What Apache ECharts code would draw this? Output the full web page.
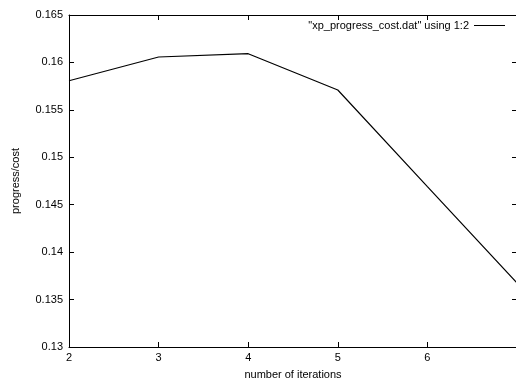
<!DOCTYPE html>
<html>
<head>
<meta charset="utf-8">
<script src="https://cdn.jsdelivr.net/npm/echarts@6/dist/echarts.min.js"></script>
<style>
  html, body { margin: 0; padding: 0; background: #fff; }
  #chart { width: 516px; height: 379px; }
</style>
</head>
<body>
<div id="chart"></div>
<script>
// iterations and progress/cost values
const iterations = [2, 3, 4, 5, 6, 7];
const progressCost = [0.15807, 0.16057, 0.16092, 0.15709, 0.1469, 0.13675];
const seriesName = '"xp_progress_cost.dat" using 1:2';
const xLabel = 'number of iterations';
const yLabel = 'progress/cost';

const font = 'Liberation Sans, Arial, Helvetica, sans-serif';
const black = '#000';
const tickIn = { show: true, inside: true, length: 5, lineStyle: { color: black, width: 1 } };
const lineBlack = { show: true, onZero: false, lineStyle: { color: black, width: 1 } };

const chart = echarts.init(document.getElementById('chart'), null, { renderer: 'canvas' });
chart.setOption({
  animation: false,
  backgroundColor: '#fff',
  textStyle: { fontFamily: font },
  grid: { left: 69, right: -1, top: 15, bottom: 32, containLabel: false, outerBoundsMode: 'none' },
  legend: {
    show: true,
    data: [seriesName],
    orient: 'horizontal',
    right: 11,
    top: 20,
    align: 'right',
    icon: 'rect',
    itemWidth: 31,
    itemHeight: 1,
    itemGap: 5,
    padding: 0,
    itemStyle: { color: black, borderWidth: 0 },
    textStyle: { fontSize: 11, color: black, fontFamily: font }
  },
  xAxis: [
    {
      type: 'value', min: 2, max: 7, interval: 1,
      name: xLabel, nameLocation: 'middle', nameGap: 22,
      nameTextStyle: { fontSize: 11, color: black, fontFamily: font },
      axisLine: lineBlack, axisTick: tickIn, splitLine: { show: false },
      axisLabel: { fontSize: 11, color: black, margin: 5, fontFamily: font,
        formatter: v => (v >= 7 ? '' : String(v)) }
    },
    {
      type: 'value', min: 2, max: 7, interval: 1, position: 'top',
      axisLine: lineBlack, axisTick: tickIn, splitLine: { show: false },
      axisLabel: { show: false }
    }
  ],
  yAxis: [
    {
      type: 'value', min: 0.13, max: 0.165, interval: 0.005,
      name: yLabel, nameLocation: 'middle', nameGap: 48,
      nameTextStyle: { fontSize: 11, color: black, fontFamily: font },
      axisLine: lineBlack, axisTick: tickIn, splitLine: { show: false },
      axisLabel: { fontSize: 11, color: black, margin: 6, fontFamily: font,
        formatter: v => String(+v.toFixed(3)) }
    },
    {
      type: 'value', min: 0.13, max: 0.165, interval: 0.005, position: 'right',
      axisLine: lineBlack, axisTick: tickIn, splitLine: { show: false },
      axisLabel: { show: false }
    }
  ],
  series: [{
    name: seriesName,
    type: 'line',
    data: iterations.map((x, i) => [x, progressCost[i]]),
    symbol: 'none',
    lineStyle: { color: black, width: 1.2 },
    itemStyle: { color: black }
  }]
});
</script>
</body>
</html>
